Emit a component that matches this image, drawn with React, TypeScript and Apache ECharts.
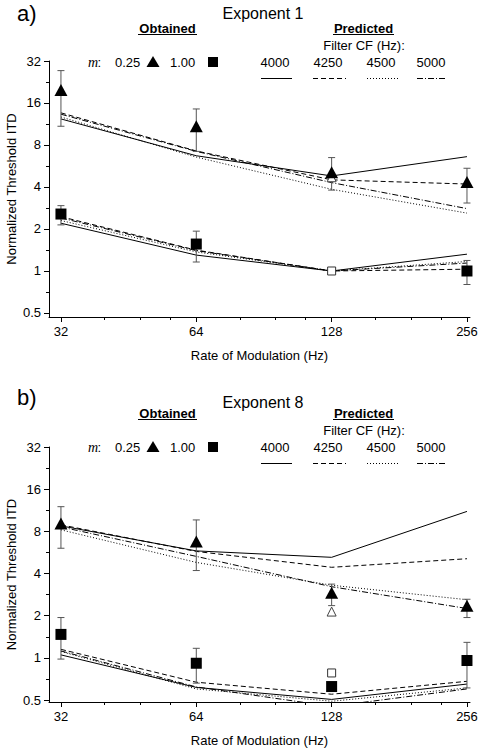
import React, { useEffect, useRef } from "react";
import * as echarts from "echarts";

// ---------- data ----------
const rates = [32, 64, 128, 256];
const xTickValues = [32, 64, 128, 256];
const xMinorTickValues = [40, 48, 56, 80, 96, 112, 160, 192, 224];
const yTickValues = [0.5, 1, 2, 4, 8, 16, 32];
const yMinorTickValues = [0.707, 1.414, 2.828, 5.657, 11.31, 22.63];
const filterCFs = ["4000", "4250", "4500", "5000"];

// Panel a (Exponent 1)
const aTri = [19.8, 10.9, 5.1, 4.35];
const aTriHi = [27.3, 14.5, 6.5, 5.45];
const aTriLo = [10.9, 7.2, 3.8, 3.07];
const aOpenTri = [null, null, 4.7, null];
const aSq = [2.56, 1.56, null, 1.0];
const aSqHi = [2.94, 1.93, null, 1.19];
const aSqLo = [2.14, 1.16, null, 0.8];
const aOpenSq = [null, null, 1.0, null];
const aPred25 = [
  [12.3, 6.7, 4.8, 6.6],
  [13.6, 7.25, 4.5, 4.2],
  [12.7, 6.55, 3.85, 2.6],
  [13.3, 7.2, 4.3, 2.8],
];
const aPred100 = [
  [2.2, 1.3, 1.0, 1.32],
  [2.45, 1.41, 1.0, 1.03],
  [2.3, 1.37, 1.0, 1.17],
  [2.4, 1.4, 1.0, 1.14],
];

// Panel b (Exponent 8)
const bTri = [9.1, 6.76, 2.92, 2.35];
const bTriHi = [12.0, 9.65, 3.36, 2.62];
const bTriLo = [6.06, 4.2, 2.36, 1.94];
const bOpenTri = [null, null, 2.14, null];
const bSq = [1.47, 0.915, 0.624, 0.957];
const bSqHi = [1.94, 1.17, null, 1.29];
const bSqLo = [0.98, 0.66, null, 0.61];
const bOpenSq = [null, null, 0.78, null];
const bPred25 = [
  [8.75, 5.8, 5.22, 11.1],
  [8.9, 5.75, 4.43, 5.1],
  [8.2, 4.8, 3.3, 2.6],
  [8.6, 5.3, 3.22, 2.25],
];
const bPred100 = [
  [1.05, 0.615, 0.505, 0.65],
  [1.15, 0.67, 0.55, 0.68],
  [1.11, 0.6, 0.49, 0.61],
  [1.12, 0.62, 0.45, 0.6],
];

// ---------- styles ----------
const FONT = "'Liberation Sans', Arial, sans-serif";
const dashes: any[] = ["solid", [5, 3], [1, 2], [6, 2, 1, 2]];

const pairs = (vals: (number | null)[]) =>
  rates.map((r, i) => [r, vals[i]]).filter((p) => p[1] != null);

const fmt = (v: number) =>
  Math.abs(v - Math.round(v)) < 1e-6 ? String(Math.round(v)) : String(Math.round(v * 10) / 10);

function axesFor(g: number, yMin: number) {
  const xs = [
    {
      type: "log", logBase: 2, gridIndex: g, min: 30.1, max: 260, position: "bottom",
      axisLine: { show: true, lineStyle: { color: "#000", width: 1 } },
      axisTick: { show: true, customValues: xTickValues, length: 5, lineStyle: { color: "#000" } },
      axisLabel: { customValues: xTickValues, formatter: fmt, color: "#000", fontSize: 13, margin: 8, fontFamily: FONT },
      splitLine: { show: false },
      name: "Rate of Modulation (Hz)", nameLocation: "middle", nameGap: 32, nameMoveOverlap: false,
      nameTextStyle: { color: "#000", fontSize: 13, fontFamily: FONT },
    },
    {
      type: "log", logBase: 2, gridIndex: g, min: 30.1, max: 260, position: "bottom",
      axisLine: { show: false },
      axisTick: { show: true, customValues: xMinorTickValues, length: 3, lineStyle: { color: "#000" } },
      axisLabel: { show: false },
      splitLine: { show: false },
    },
  ];
  const ys = [
    {
      type: "log", logBase: 2, gridIndex: g, min: yMin, max: 32, position: "left",
      axisLine: { show: true, lineStyle: { color: "#000", width: 1 } },
      axisTick: { show: true, customValues: yTickValues, length: 5, lineStyle: { color: "#000" } },
      axisLabel: { customValues: yTickValues, formatter: fmt, color: "#000", fontSize: 13, margin: 8, fontFamily: FONT },
      splitLine: { show: false },
      name: "Normalized Threshold ITD", nameLocation: "middle", nameGap: 31, nameRotate: 90, nameMoveOverlap: false,
      nameTextStyle: { color: "#000", fontSize: 13, fontFamily: FONT },
    },
    {
      type: "log", logBase: 2, gridIndex: g, min: yMin, max: 32, position: "left",
      axisLine: { show: false },
      axisTick: { show: true, customValues: yMinorTickValues, length: 3, lineStyle: { color: "#000" } },
      axisLabel: { show: false },
      splitLine: { show: false },
    },
  ];
  return { xs, ys };
}

function errorSeries(ax: number, lo: (number | null)[], hi: (number | null)[]) {
  const data = rates
    .map((r, i) => [r, lo[i], hi[i]])
    .filter((p) => p[1] != null && p[2] != null);
  return {
    type: "custom", xAxisIndex: ax, yAxisIndex: ax, z: 3, silent: true,
    data,
    encode: { x: 0, y: [1, 2] },
    renderItem: (_p: any, api: any) => {
      const x = api.value(0);
      const a = api.coord([x, api.value(1)]);
      const b = api.coord([x, api.value(2)]);
      const w = 3.5;
      const st = { stroke: "#555", lineWidth: 1, fill: "none" };
      return {
        type: "group",
        children: [
          { type: "line", shape: { x1: a[0], y1: a[1], x2: b[0], y2: b[1] }, style: st },
          { type: "line", shape: { x1: a[0] - w, y1: a[1], x2: a[0] + w, y2: a[1] }, style: st },
          { type: "line", shape: { x1: b[0] - w, y1: b[1], x2: b[0] + w, y2: b[1] }, style: st },
        ],
      };
    },
  };
}

function panelSeries(
  ax: number,
  tri: number[], triHi: (number | null)[], triLo: (number | null)[], openTri: (number | null)[],
  sq: (number | null)[], sqHi: (number | null)[], sqLo: (number | null)[], openSq: (number | null)[],
  pred25: number[][], pred100: number[][]
) {
  const s: any[] = [];
  [pred25, pred100].forEach((grp) => {
    grp.forEach((vals, k) => {
      s.push({
        type: "line", xAxisIndex: ax, yAxisIndex: ax, z: 2, silent: true,
        data: pairs(vals), symbol: "none", showSymbol: false, clip: true,
        lineStyle: { color: "#000", width: 1, type: dashes[k] },
      });
    });
  });
  s.push(errorSeries(ax, triLo, triHi));
  s.push(errorSeries(ax, sqLo, sqHi));
  s.push({
    type: "scatter", xAxisIndex: ax, yAxisIndex: ax, z: 4, silent: true,
    data: pairs(openTri), symbol: "triangle", symbolSize: [9, 9],
    itemStyle: { color: "#fff", borderColor: "#444", borderWidth: 1, opacity: 1 },
  });
  s.push({
    type: "scatter", xAxisIndex: ax, yAxisIndex: ax, z: 5, silent: true,
    data: pairs(tri), symbol: "triangle", symbolSize: [13, 12],
    itemStyle: { color: "#000", opacity: 1 },
  });
  s.push({
    type: "scatter", xAxisIndex: ax, yAxisIndex: ax, z: 5, silent: true,
    data: pairs(sq), symbol: "rect", symbolSize: 11,
    itemStyle: { color: "#000", opacity: 1 },
  });
  s.push({
    type: "scatter", xAxisIndex: ax, yAxisIndex: ax, z: 4, silent: true,
    data: pairs(openSq), symbol: "rect", symbolSize: 8,
    itemStyle: { color: "#fff", borderColor: "#333", borderWidth: 1, opacity: 1 },
  });
  return s;
}

function header(panel: string, expo: string, mY: number, labelY: number, expoY: number): any[] {
  const t = (text: string, x: number, y: number, size: number, align = "center", extra: any = {}) => ({
    type: "text", x, y, silent: true,
    style: { text, fill: "#000", fontSize: size, fontFamily: FONT, align, verticalAlign: "middle", ...extra },
  });
  const obtY = mY - 34;
  const els: any[] = [
    t(panel, 17, labelY, 22, "left"),
    t(expo, 263, expoY, 16),
    t("Obtained", 167.5, obtY, 13, "center", { fontWeight: "bold" }),
    t("Predicted", 363.5, obtY, 13, "center", { fontWeight: "bold" }),
    { type: "line", silent: true, shape: { x1: 138, y1: obtY + 6.5, x2: 197, y2: obtY + 6.5 }, style: { stroke: "#000", lineWidth: 1 } },
    { type: "line", silent: true, shape: { x1: 333, y1: obtY + 6.5, x2: 394, y2: obtY + 6.5 }, style: { stroke: "#000", lineWidth: 1 } },
    t("Filter CF (Hz):", 364, mY - 17, 13),
    {
      type: "text", x: 88, y: mY, silent: true,
      style: { text: "m", fill: "#000", fontSize: 14, fontStyle: "italic", fontFamily: "'Liberation Serif', serif", align: "left", verticalAlign: "middle" },
    },
    t(":", 97.5, mY, 13, "left"),
    t("0.25", 115, mY, 13, "left"),
    t("1.00", 170, mY, 13, "left"),
    {
      type: "polygon", silent: true,
      shape: { points: [[153, mY - 6], [159.5, mY + 5], [146.5, mY + 5]] },
      style: { fill: "#000" },
    },
    { type: "rect", silent: true, shape: { x: 208, y: mY - 5, width: 10, height: 10 }, style: { fill: "#000" } },
  ];
  const centers = [275, 328, 381, 431];
  const segs = [[261, 292], [313, 346], [367, 399], [417, 447]];
  filterCFs.forEach((cf, k) => {
    els.push(t(cf, centers[k], mY, 13));
    els.push({
      type: "line", silent: true,
      shape: { x1: segs[k][0], y1: mY + 16.5, x2: segs[k][1], y2: mY + 16.5 },
      style: { stroke: "#000", lineWidth: 1, lineDash: dashes[k] === "solid" ? null : dashes[k] },
    });
  });
  return els;
}

export default function App() {
  const ref = useRef<HTMLDivElement>(null);
  useEffect(() => {
    if (!ref.current) return;
    const chart = echarts.init(ref.current, undefined, { renderer: "svg" });
    const A = axesFor(0, 0.468);
    const B = axesFor(1, 0.484);
    const option: any = {
      animation: false,
      backgroundColor: "#fff",
      textStyle: { fontFamily: FONT },
      grid: [
        { left: 49, top: 61, width: 421, height: 256, containLabel: false, outerBoundsMode: "none" },
        { left: 49, top: 447, width: 421, height: 255, containLabel: false, outerBoundsMode: "none" },
      ],
      xAxis: [...A.xs, ...B.xs],
      yAxis: [...A.ys, ...B.ys],
      series: [
        ...panelSeries(0, aTri, aTriHi, aTriLo, aOpenTri, aSq, aSqHi, aSqLo, aOpenSq, aPred25, aPred100),
        ...panelSeries(2, bTri, bTriHi, bTriLo, bOpenTri, bSq, bSqHi, bSqLo, bOpenSq, bPred25, bPred100),
      ],
      graphic: [
        ...header("a)", "Exponent 1", 62, 13, 13),
        ...header("b)", "Exponent 8", 447, 397, 402),
      ],
    };
    chart.setOption(option);
    return () => chart.dispose();
  }, []);
  return (
    <div
      ref={ref}
      style={{ position: "fixed", left: 0, top: 0, width: 480, height: 750, background: "#fff" }}
    />
  );
}
